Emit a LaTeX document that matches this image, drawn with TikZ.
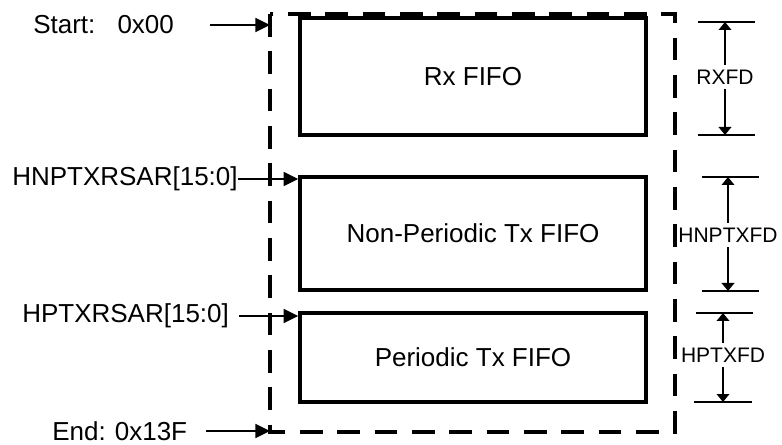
\documentclass[tikz,border=0pt]{standalone}
\usepackage{fontspec}
\setsansfont{Liberation Sans}
\usetikzlibrary{arrows.meta}
\begin{document}
\begin{tikzpicture}[x=0.75pt, y=-0.75pt, font=\sffamily\fontsize{19.5}{23}\selectfont,
          fifo/.style={draw, line width=2.7pt, inner sep=0pt, minimum width=259.5pt},
          frame/.style={line width=2.7pt, dash pattern=on 17pt off 11pt},
          lbl/.style={inner sep=0pt, anchor=west},
          ptr/.style={-{Triangle[length=11pt, width=10.5pt]}, line width=1.3pt},
          dlbl/.style={font=\sffamily\fontsize{15.75}{18}\selectfont, inner sep=3.5pt},
          dim/.style={line width=1.1pt},
          darr/.style={-{Triangle[length=6pt, width=9.5pt]}, line width=1.1pt}]
        \useasboundingbox (0,0) rectangle (782,445);
        \coordinate (frameNW) at (270,14);
        \coordinate (frameSE) at (675,432);
        \draw[frame] (frameNW) rectangle (frameSE);
        \node[fifo, minimum height=87.75pt] (rx) at (473,76.5)  {Rx FIFO};
        \node[fifo, minimum height=84.75pt] (np) at (473,233.5) {Non-Periodic Tx FIFO};
        \node[fifo, minimum height=66.75pt] (pt) at (473,357.5) {Periodic Tx FIFO};
        \node[lbl] (start) at (33,25)  {Start:\hspace{0.85em}0x00};
        \node[lbl] (hnp)   at (12,179) {HNPTXRSAR[15:0]};
        \node[lbl] (hp)    at (22,316) {HPTXRSAR[15:0]};
        \node[lbl] (end)   at (52,431) {End:\hspace{0.35em}0x13F};
        \draw[ptr, shorten <=27pt] (start.east) -- (start.east -| frameNW);
        \draw[ptr] (hnp.east) -- (hnp.east -| np.west);
        \draw[ptr, shorten <=7.5pt] (hp.east) -- (hp.east -| pt.west);
        \draw[ptr, shorten <=14pt] (end.east) -- (end.east -| frameNW);
        \node[dlbl] (rxfd)  at (725,77)  {RXFD};
        \node[dlbl] (hnpfd) at (728,235) {HNPTXFD};
        \node[dlbl] (hpfd)  at (723,355) {HPTXFD};
        \draw[dim] (698,22) -- (755,22) (698,135) -- (755,135);
        \draw[dim] (702,177) -- (759,177) (702,291) -- (759,291);
        \draw[dim] (696,313) -- (753,313) (694,402) -- (752,402);
        \draw[darr] (rxfd.north) -- (rxfd.north |- 0,22);
        \draw[darr] (rxfd.south) -- (rxfd.south |- 0,135);
        \draw[darr] (hnpfd.north) -- (hnpfd.north |- 0,177);
        \draw[darr] (hnpfd.south) -- (hnpfd.south |- 0,291);
        \draw[darr] (hpfd.north) -- (hpfd.north |- 0,313);
        \draw[darr] (hpfd.south) -- (hpfd.south |- 0,402);
      \end{tikzpicture}
\end{document}
